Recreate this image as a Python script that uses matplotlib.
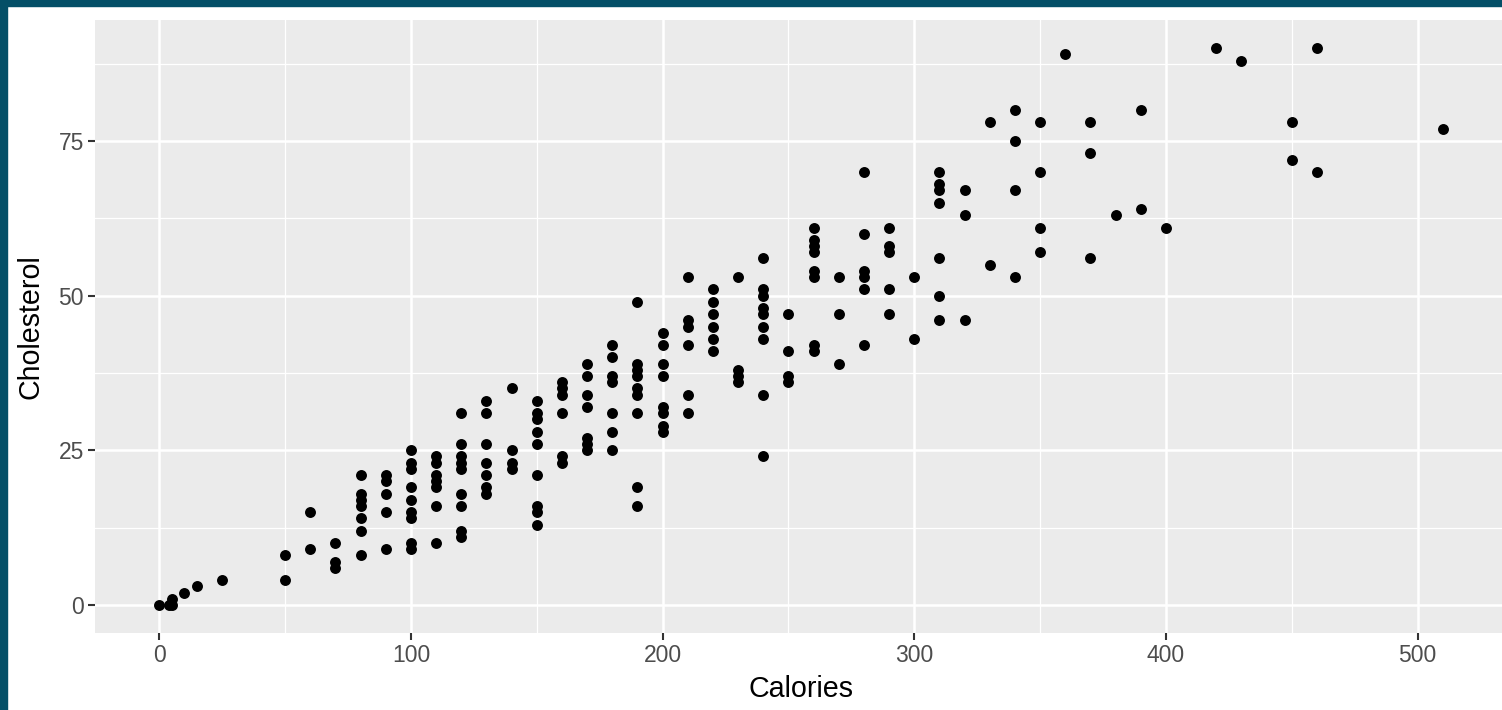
import matplotlib
matplotlib.use("Agg")
import matplotlib.pyplot as plt
from matplotlib.patches import Rectangle

plt.rcParams['font.family'] = ['Liberation Sans', 'DejaVu Sans']

calories = (
    [0, 4, 5, 5, 10, 15, 25]
    + [50] * 2 + [60] * 2 + [70] * 3 + [80] * 7 + [90] * 5
    + [100] * 9 + [110] * 7 + [120] * 9 + [130] * 7 + [140] * 4
    + [150] * 9 + [160] * 6 + [170] * 7 + [180] * 7 + [190] * 9
    + [200] * 8 + [210] * 6 + [220] * 6 + [230] * 4 + [240] * 9
    + [250] * 4 + [260] * 8 + [270] * 3 + [280] * 6 + [290] * 5
    + [300] * 2 + [310] * 7 + [320] * 3 + [330] * 2 + [340] * 4
    + [350] * 4 + [360] * 1 + [370] * 3 + [380] * 1 + [390] * 2
    + [400] * 1 + [420] * 1 + [430] * 1 + [450] * 2 + [460] * 2 + [510] * 1
)

cholesterol = [
    0, 0, 0, 1, 2, 3, 4,
    4, 8,
    9, 15,
    6, 7, 10,
    8, 12, 14, 16, 17, 18, 21,
    9, 15, 18, 20, 21,
    9, 10, 14, 15, 17, 19, 22, 23, 25,
    10, 16, 19, 20, 21, 23, 24,
    11, 12, 16, 18, 22, 23, 24, 26, 31,
    18, 19, 21, 23, 26, 31, 33,
    22, 23, 25, 35,
    13, 15, 16, 21, 26, 28, 30, 31, 33,
    23, 24, 31, 34, 35, 36,
    25, 26, 27, 32, 34, 37, 39,
    25, 28, 31, 36, 37, 40, 42,
    16, 19, 31, 34, 35, 37, 38, 39, 49,
    28, 29, 31, 32, 37, 39, 42, 44,
    31, 34, 42, 45, 46, 53,
    41, 43, 45, 47, 49, 51,
    36, 37, 38, 53,
    24, 34, 43, 45, 47, 48, 50, 51, 56,
    36, 37, 41, 47,
    41, 42, 53, 54, 57, 58, 59, 61,
    39, 47, 53,
    42, 51, 53, 54, 60, 70,
    47, 51, 57, 58, 61,
    43, 53,
    46, 50, 56, 65, 67, 68, 70,
    46, 63, 67,
    55, 78,
    53, 67, 75, 80,
    57, 61, 70, 78,
    89,
    56, 73, 78,
    63,
    64, 80,
    61,
    90,
    88,
    72, 78,
    70, 90,
    77,
]

x_ticks = [0, 100, 200, 300, 400, 500]
x_minor = [50, 150, 250, 350, 450]
y_ticks = [0, 25, 50, 75]
y_minor = [12.5, 37.5, 62.5, 87.5]

W, H, DPI = 1502, 710, 100
fig = plt.figure(figsize=(W / DPI, H / DPI), dpi=DPI, facecolor='white')

# axes placed in pixel geometry (panel runs past right edge as in the reference)
left_px, right_px, top_px, bottom_px = 95, 1507, 20.3, 632.8
ax = fig.add_axes([left_px / W, 1 - bottom_px / H,
                   (right_px - left_px) / W, (bottom_px - top_px) / H])
ax.set_facecolor('#EBEBEB')
ax.set_xlim(-25.5, 535.5)
ax.set_ylim(-4.5, 94.5)

for v in x_minor:
    ax.axvline(v, color='white', lw=0.9, zorder=0.5)
for v in y_minor:
    ax.axhline(v, color='white', lw=0.9, zorder=0.5)
for v in x_ticks:
    ax.axvline(v, color='white', lw=1.8, zorder=0.6)
for v in y_ticks:
    ax.axhline(v, color='white', lw=1.8, zorder=0.6)

ax.scatter(calories, cholesterol, s=62, color='black', linewidths=0, zorder=3)

ax.set_xticks(x_ticks)
ax.set_yticks(y_ticks)
ax.tick_params(axis='both', length=5, width=1.5, color='#333333',
               labelcolor='#4D4D4D', labelsize=16.5)
ax.tick_params(axis='x', pad=3)
ax.tick_params(axis='y', pad=3)
for s in ax.spines.values():
    s.set_visible(False)

ax.set_xlabel('Calories', fontsize=20.6, color='black', labelpad=6)
ax.set_ylabel('Cholesterol', fontsize=20.6, color='black', labelpad=10)

teal = '#044F67'
fig.patches.append(Rectangle((0, 1 - 6 / H), 1, 6 / H, transform=fig.transFigure,
                             color=teal, zorder=10))
fig.patches.append(Rectangle((0, 0), 7 / W, 1, transform=fig.transFigure,
                             color=teal, zorder=10))

fig.savefig('out.png', dpi=DPI, facecolor='white')
